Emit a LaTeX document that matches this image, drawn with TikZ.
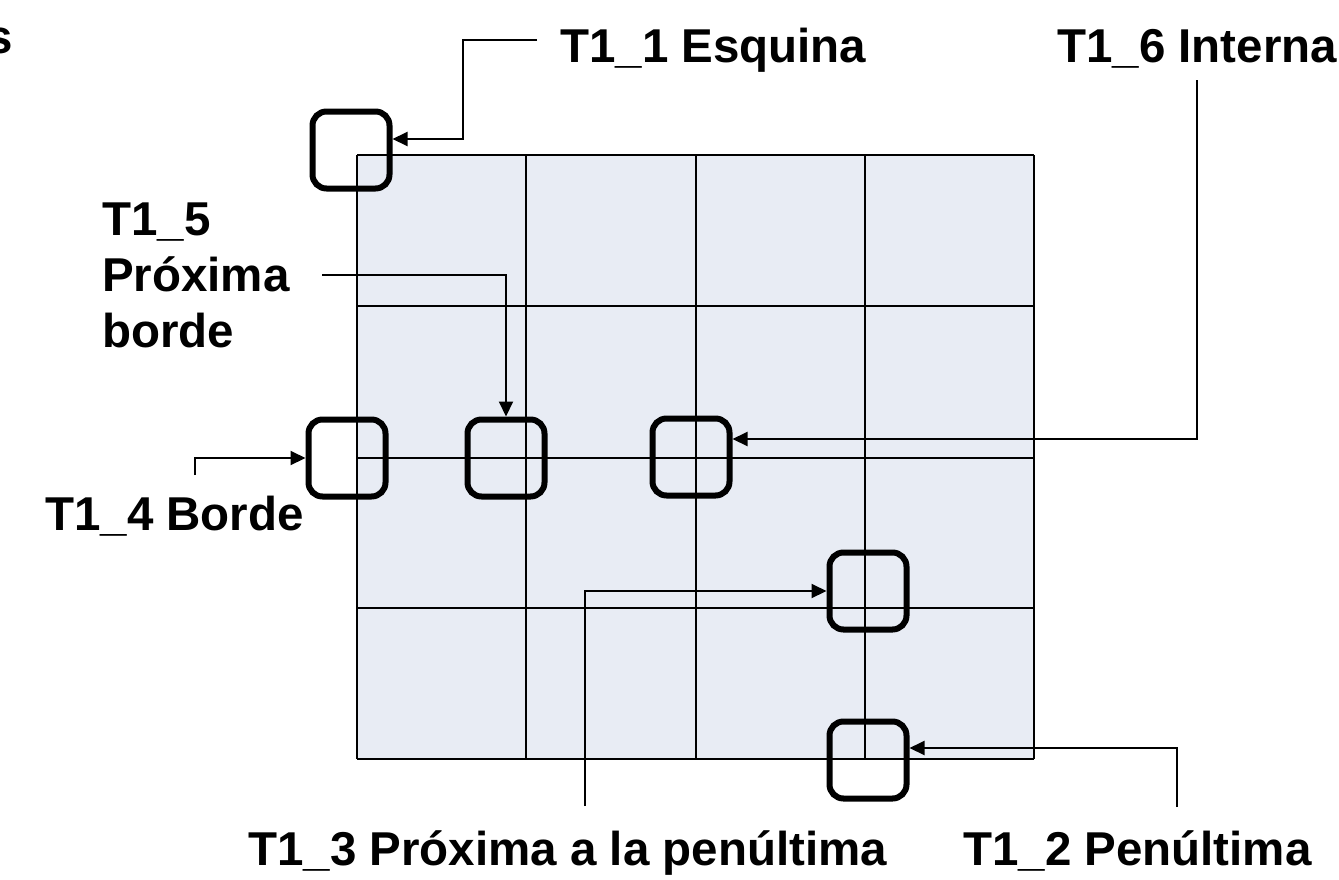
\documentclass[tikz,border=0pt]{standalone}
\usepackage{fontspec}
\setmainfont{Liberation Sans}
\usetikzlibrary{arrows.meta}
\definecolor{cellfill}{RGB}{232,236,244}
\begin{document}
\begin{tikzpicture}[x=1pt,y=-1pt,
  lbl/.style={font=\bfseries\fontsize{47.5}{56}\selectfont, inner sep=0pt, anchor=base west},
  tile/.style={draw, line width=6pt, rounded corners=14pt, minimum size=77pt, inner sep=0pt},
  arr/.style={line width=2pt, -{Triangle[length=15pt,width=14pt]}},
  gridline/.style={line width=2pt}]
\useasboundingbox (0,0) rectangle (1339,879);

% 4x4 grid of cells
\fill[cellfill] (357,155) rectangle (1034,759);
\foreach \gx in {357,526.25,695.5,864.75,1034}
  \draw[gridline] (\gx,155) -- (\gx,759);
\foreach \gy in {155,306,457.5,608,759}
  \draw[gridline] (357,\gy) -- (1034,\gy);

% highlighted tiles
\node[tile] (q1) at (351,150) {};
\node[tile] (q4) at (347,458) {};
\node[tile] (q5) at (506,458) {};
\node[tile] (q6) at (691,457) {};
\node[tile] (q3) at (868,591) {};
\node[tile] (q2) at (868,760) {};

% labels
\node[lbl, anchor=base east] (ts) at (13,53) {s};
\node[lbl] (t1) at (560,62) {T1\_1 Esquina};
\node[lbl] (t6) at (1057,62) {T1\_6 Interna};
\node[lbl] (t5a) at (102,235) {T1\_5};
\node[lbl] (t5b) at (102,291) {Próxima};
\node[lbl] (t5c) at (102,347) {borde};
\node[lbl] (t4) at (45,530) {T1\_4 Borde};
\node[lbl] (t3) at (248,865) {T1\_3 Próxima a la penúltima};
\node[lbl] (t2) at (963,865) {T1\_2 Penúltima};

% leader ends
\coordinate (c1) at (537,40);
\coordinate (c5) at (322,275);
\coordinate (c6) at (1197,80);
\coordinate (c4) at (195,475);
\coordinate (c3) at (585,806);
\coordinate (c2) at (1177,807);

% leaders
\draw[arr] (c1) -- (463,40) |- ([yshift=11pt]q1.east);
\draw[arr] (c5) -| (q5.north);
\draw[arr] (c6) |- ([yshift=18pt]q6.east);
\draw[arr] (c4) |- (q4.west);
\draw[arr] (c3) |- (q3.west);
\draw[arr] (c2) |- ([yshift=12pt]q2.east);
\end{tikzpicture}
\end{document}
